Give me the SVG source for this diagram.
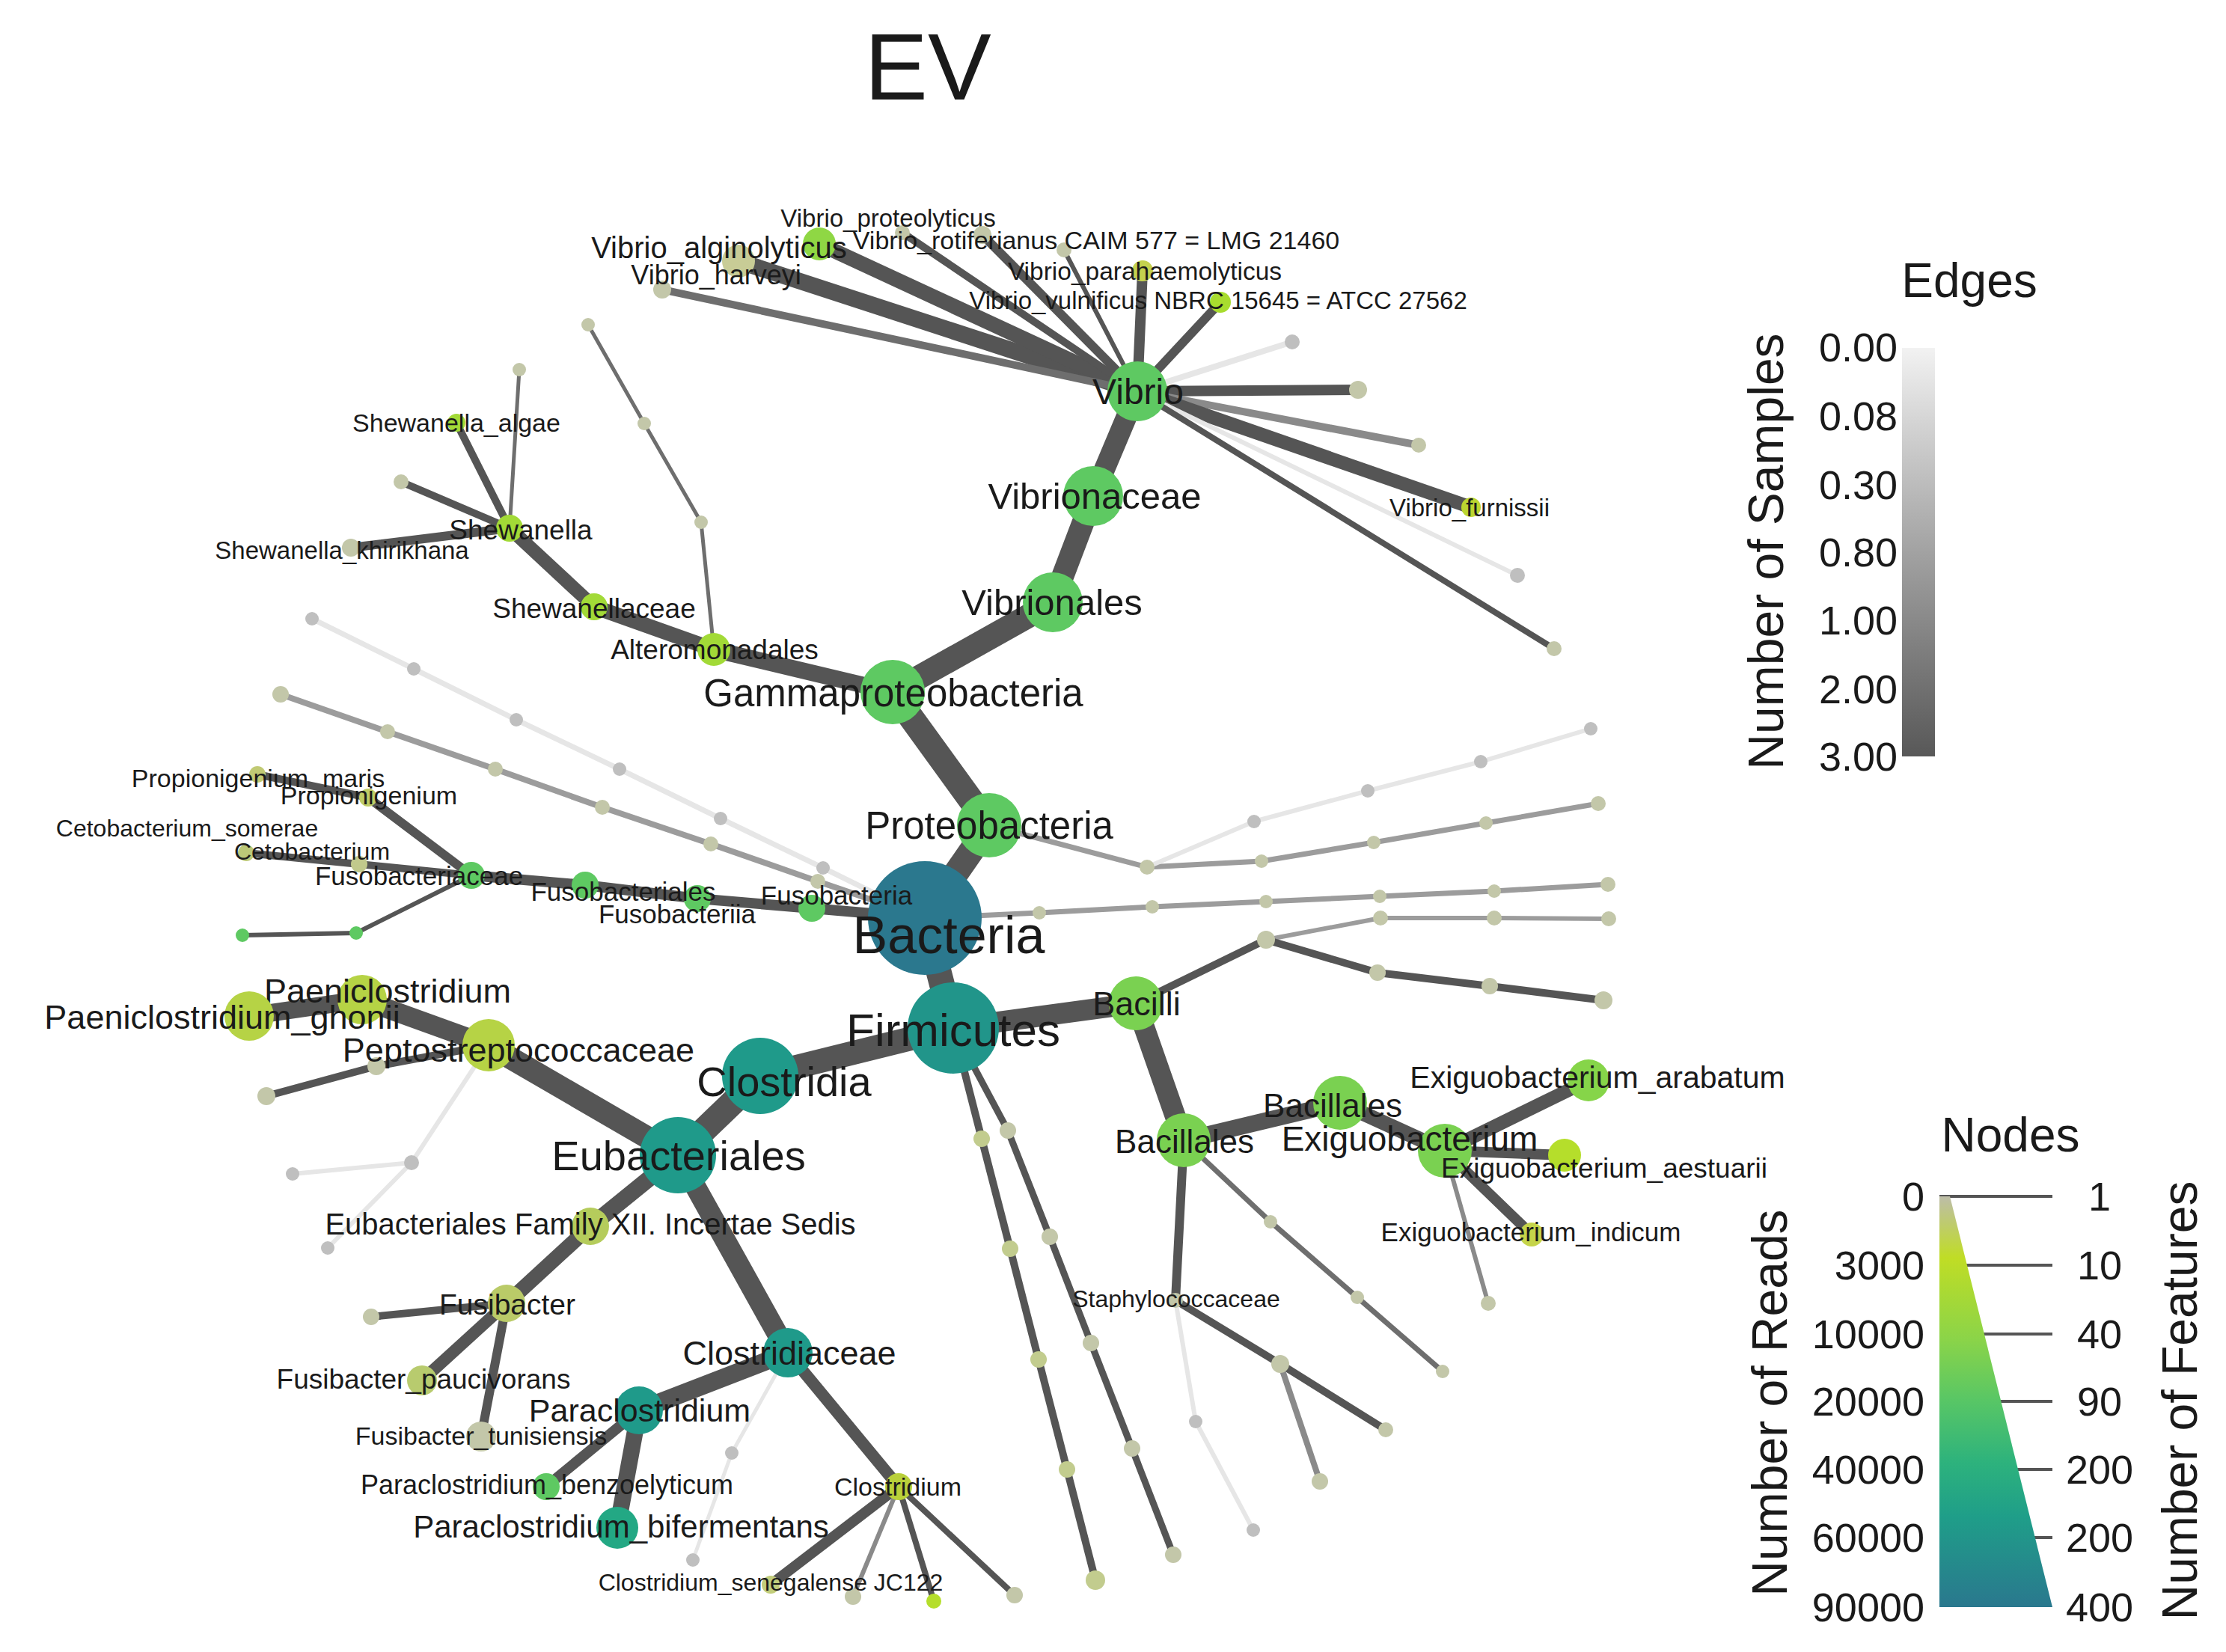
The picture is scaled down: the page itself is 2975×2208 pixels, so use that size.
<svg xmlns="http://www.w3.org/2000/svg" width="2975" height="2208" viewBox="0 0 2975 2208">
<style>
text{font-family:"Liberation Sans",Arial,Helvetica,sans-serif;fill:#1a1a1a}
.lb{text-anchor:middle;dominant-baseline:central}
.ls{text-anchor:start;dominant-baseline:central}
.le{text-anchor:end;dominant-baseline:central}
#edges line{stroke-linecap:round;fill:none}
.e3{stroke:#555555}
.e2{stroke:#6e6e6e}
.e1{stroke:#8a8a8a}
.e08{stroke:#9c9c9c}
.e0{stroke:#e6e6e6}
.cB{fill:#2b788e}
.cT{fill:#1f9a8a}
.cT2{fill:#23a884}
.cG{fill:#5ec962}
.cL{fill:#7ad151}
.cA{fill:#86d549}
.cY{fill:#a2da37}
.cLi{fill:#b5de2b}
.cK{fill:#b6d345}
.cO{fill:#bacb68}
.cOk{fill:#c2cc8e}
.cGK{fill:#c3c7a9}
.cLG{fill:#bfbfbf}
.tick{stroke:#555555;stroke-width:4}
</style>
<defs>
<linearGradient id="edgeGrad" x1="0" y1="0" x2="0" y2="1">
<stop offset="0" stop-color="#f2f2f2"/>
<stop offset="0.17" stop-color="#d6d6d6"/>
<stop offset="0.5" stop-color="#a2a2a2"/>
<stop offset="0.83" stop-color="#717171"/>
<stop offset="1" stop-color="#585858"/>
</linearGradient>
<linearGradient id="nodeGrad" x1="0" y1="0" x2="0" y2="1">
<stop offset="0" stop-color="#bdbda8"/>
<stop offset="0.15" stop-color="#c0dd25"/>
<stop offset="0.35" stop-color="#8ad449"/>
<stop offset="0.5" stop-color="#57c666"/>
<stop offset="0.65" stop-color="#2db27d"/>
<stop offset="0.78" stop-color="#1f9e89"/>
<stop offset="1" stop-color="#2a788e"/>
</linearGradient>
</defs>
<rect width="2975" height="2208" fill="#ffffff"/>
<text x="1240" y="133" font-size="127" text-anchor="middle">EV</text>

<g id="edges">
<line class="e3" stroke-width="34" x1="1236" y1="1227" x2="1322" y2="1103"/>
<line class="e3" stroke-width="34" x1="1322" y1="1103" x2="1193" y2="925"/>
<line class="e3" stroke-width="32" x1="1193" y1="925" x2="1407" y2="805"/>
<line class="e3" stroke-width="30" x1="1407" y1="805" x2="1461" y2="663"/>
<line class="e3" stroke-width="28" x1="1461" y1="663" x2="1520" y2="523"/>
<line class="e3" stroke-width="22" x1="1193" y1="925" x2="954" y2="868"/>
<line class="e3" stroke-width="20" x1="954" y1="868" x2="794" y2="811"/>
<line class="e3" stroke-width="18" x1="794" y1="811" x2="681" y2="706"/>
<line class="e3" stroke-width="10" x1="681" y1="706" x2="610" y2="565"/>
<line class="e2" stroke-width="5" x1="681" y1="706" x2="694" y2="494"/>
<line class="e3" stroke-width="10" x1="681" y1="706" x2="536" y2="644"/>
<line class="e3" stroke-width="12" x1="681" y1="706" x2="469" y2="732"/>
<line class="e2" stroke-width="5" x1="954" y1="868" x2="937" y2="698"/>
<line class="e2" stroke-width="5" x1="937" y1="698" x2="861" y2="566"/>
<line class="e2" stroke-width="5" x1="861" y1="566" x2="786" y2="434"/>
<line class="e3" stroke-width="22" x1="1520" y1="523" x2="987" y2="349"/>
<line class="e3" stroke-width="20" x1="1520" y1="523" x2="1095" y2="326"/>
<line class="e2" stroke-width="10" x1="1520" y1="523" x2="885" y2="387"/>
<line class="e3" stroke-width="10" x1="1520" y1="523" x2="1206" y2="311"/>
<line class="e3" stroke-width="12" x1="1520" y1="523" x2="1313" y2="314"/>
<line class="e3" stroke-width="6" x1="1520" y1="523" x2="1422" y2="334"/>
<line class="e3" stroke-width="14" x1="1520" y1="523" x2="1527" y2="362"/>
<line class="e3" stroke-width="12" x1="1520" y1="523" x2="1631" y2="404"/>
<line class="e0" stroke-width="8" x1="1520" y1="523" x2="1727" y2="457"/>
<line class="e3" stroke-width="14" x1="1520" y1="523" x2="1815" y2="521"/>
<line class="e1" stroke-width="10" x1="1520" y1="523" x2="1896" y2="595"/>
<line class="e3" stroke-width="18" x1="1520" y1="523" x2="1966" y2="678"/>
<line class="e0" stroke-width="6" x1="1520" y1="523" x2="2028" y2="769"/>
<line class="e3" stroke-width="8" x1="1520" y1="523" x2="2077" y2="867"/>
<polyline class="e08" stroke-width="8" fill="none" stroke-linejoin="round" points="1236,1227 1093,1178 950,1128 805,1079 662,1028 518,978 375,928"/>
<polyline class="e0" stroke-width="7" fill="none" stroke-linejoin="round" points="1236,1227 1100,1160 963,1094 828,1028 690,962 553,894 417,827"/>
<polyline class="e08" stroke-width="7" fill="none" stroke-linejoin="round" points="1236,1227 1389,1220 1540,1212 1692,1205 1844,1198 1997,1191 2149,1182"/>
<polyline class="e08" stroke-width="7" fill="none" stroke-linejoin="round" points="1322,1103 1533,1159 1686,1151 1836,1126 1986,1100 2136,1074"/>
<polyline class="e0" stroke-width="6" fill="none" stroke-linejoin="round" points="1533,1159 1676,1098 1828,1057 1979,1018 2126,974"/>
<line class="e3" stroke-width="14" x1="1236" y1="1227" x2="1085" y2="1214"/>
<line class="e3" stroke-width="14" x1="1085" y1="1214" x2="932" y2="1201"/>
<line class="e3" stroke-width="14" x1="932" y1="1201" x2="782" y2="1183"/>
<line class="e3" stroke-width="14" x1="782" y1="1183" x2="630" y2="1170"/>
<line class="e3" stroke-width="12" x1="630" y1="1170" x2="492" y2="1066"/>
<line class="e3" stroke-width="10" x1="492" y1="1066" x2="344" y2="1035"/>
<line class="e3" stroke-width="10" x1="630" y1="1170" x2="480" y2="1155"/>
<line class="e3" stroke-width="10" x1="480" y1="1155" x2="329" y2="1140"/>
<line class="e3" stroke-width="6" x1="630" y1="1170" x2="476" y2="1247"/>
<line class="e3" stroke-width="6" x1="476" y1="1247" x2="324" y2="1250"/>
<line class="e3" stroke-width="34" x1="1236" y1="1227" x2="1274" y2="1374"/>
<line class="e3" stroke-width="32" x1="1274" y1="1374" x2="1016" y2="1438"/>
<line class="e3" stroke-width="34" x1="1016" y1="1438" x2="906" y2="1544"/>
<line class="e3" stroke-width="30" x1="906" y1="1544" x2="653" y2="1397"/>
<line class="e3" stroke-width="26" x1="653" y1="1397" x2="484" y2="1336"/>
<line class="e3" stroke-width="24" x1="484" y1="1336" x2="333" y2="1358"/>
<line class="e3" stroke-width="10" x1="653" y1="1397" x2="503" y2="1425"/>
<line class="e3" stroke-width="10" x1="503" y1="1425" x2="356" y2="1465"/>
<line class="e0" stroke-width="6" x1="653" y1="1397" x2="550" y2="1554"/>
<line class="e0" stroke-width="6" x1="550" y1="1554" x2="391" y2="1569"/>
<line class="e0" stroke-width="6" x1="550" y1="1554" x2="438" y2="1668"/>
<line class="e3" stroke-width="22" x1="906" y1="1544" x2="789" y2="1639"/>
<line class="e3" stroke-width="20" x1="789" y1="1639" x2="677" y2="1742"/>
<line class="e3" stroke-width="10" x1="677" y1="1742" x2="496" y2="1760"/>
<line class="e3" stroke-width="16" x1="677" y1="1742" x2="564" y2="1845"/>
<line class="e3" stroke-width="12" x1="677" y1="1742" x2="643" y2="1920"/>
<line class="e3" stroke-width="28" x1="906" y1="1544" x2="1053" y2="1808"/>
<line class="e3" stroke-width="24" x1="1053" y1="1808" x2="854" y2="1885"/>
<line class="e3" stroke-width="14" x1="854" y1="1885" x2="730" y2="1987"/>
<line class="e3" stroke-width="22" x1="854" y1="1885" x2="825" y2="2042"/>
<line class="e0" stroke-width="5" x1="1053" y1="1808" x2="978" y2="1942"/>
<line class="e0" stroke-width="5" x1="978" y1="1942" x2="926" y2="2085"/>
<line class="e3" stroke-width="16" x1="1053" y1="1808" x2="1201" y2="1987"/>
<line class="e3" stroke-width="14" x1="1201" y1="1987" x2="1030" y2="2118"/>
<line class="e1" stroke-width="6" x1="1201" y1="1987" x2="1140" y2="2134"/>
<line class="e3" stroke-width="8" x1="1201" y1="1987" x2="1248" y2="2140"/>
<line class="e3" stroke-width="8" x1="1201" y1="1987" x2="1356" y2="2132"/>
<polyline class="e3" stroke-width="10" fill="none" stroke-linejoin="round" points="1274,1374 1312,1522 1350,1669 1388,1817 1426,1964 1464,2112"/>
<polyline class="e3" stroke-width="9" fill="none" stroke-linejoin="round" points="1274,1374 1347,1511 1403,1653 1458,1795 1513,1936 1568,2078"/>
<line class="e3" stroke-width="28" x1="1274" y1="1374" x2="1518" y2="1341"/>
<line class="e3" stroke-width="28" x1="1518" y1="1341" x2="1582" y2="1524"/>
<line class="e3" stroke-width="10" x1="1518" y1="1341" x2="1692" y2="1256"/>
<polyline class="e08" stroke-width="6" fill="none" stroke-linejoin="round" points="1692,1256 1845,1227 1997,1227 2150,1228"/>
<polyline class="e3" stroke-width="10" fill="none" stroke-linejoin="round" points="1692,1256 1841,1300 1991,1318 2143,1337"/>
<line class="e3" stroke-width="22" x1="1582" y1="1524" x2="1791" y2="1474"/>
<line class="e3" stroke-width="20" x1="1791" y1="1474" x2="1931" y2="1538"/>
<line class="e3" stroke-width="18" x1="1931" y1="1538" x2="2123" y2="1444"/>
<line class="e3" stroke-width="14" x1="1931" y1="1538" x2="2091" y2="1544"/>
<line class="e3" stroke-width="14" x1="1931" y1="1538" x2="2047" y2="1650"/>
<line class="e1" stroke-width="6" x1="1931" y1="1538" x2="1989" y2="1742"/>
<line class="e3" stroke-width="12" x1="1582" y1="1524" x2="1571" y2="1738"/>
<polyline class="e2" stroke-width="7" fill="none" stroke-linejoin="round" points="1582,1524 1698,1633 1814,1734 1928,1833"/>
<line class="e3" stroke-width="10" x1="1571" y1="1738" x2="1711" y2="1823"/>
<line class="e3" stroke-width="10" x1="1711" y1="1823" x2="1852" y2="1911"/>
<line class="e1" stroke-width="8" x1="1711" y1="1823" x2="1764" y2="1980"/>
<line class="e0" stroke-width="6" x1="1571" y1="1738" x2="1598" y2="1900"/>
<line class="e0" stroke-width="6" x1="1598" y1="1900" x2="1675" y2="2045"/>
</g>

<g id="node-leaves">
<g id="n-g1"><circle class="cGK" cx="694" cy="494" r="9"/></g>
<g id="n-g2"><circle class="cGK" cx="536" cy="644" r="10"/></g>
<g id="n-a1"><circle class="cGK" cx="937" cy="698" r="9"/></g>
<g id="n-a2"><circle class="cGK" cx="861" cy="566" r="9"/></g>
<g id="n-a3"><circle class="cGK" cx="786" cy="434" r="9"/></g>
<g id="n-v1"><circle class="cGK" cx="1206" cy="311" r="10"/></g>
<g id="n-v2"><circle class="cGK" cx="1422" cy="334" r="10"/></g>
<g id="n-v3"><circle class="cLG" cx="1727" cy="457" r="10"/></g>
<g id="n-v4"><circle class="cGK" cx="1815" cy="521" r="12"/></g>
<g id="n-v5"><circle class="cGK" cx="1896" cy="595" r="10"/></g>
<g id="n-v6"><circle class="cLG" cx="2028" cy="769" r="10"/></g>
<g id="n-v7"><circle class="cGK" cx="2077" cy="867" r="10"/></g>
<g id="n-bm1"><circle class="cGK" cx="1093" cy="1178" r="10"/></g>
<g id="n-bm2"><circle class="cGK" cx="950" cy="1128" r="10"/></g>
<g id="n-bm3"><circle class="cGK" cx="805" cy="1079" r="10"/></g>
<g id="n-bm4"><circle class="cGK" cx="662" cy="1028" r="10"/></g>
<g id="n-bm5"><circle class="cGK" cx="518" cy="978" r="10"/></g>
<g id="n-bm6"><circle class="cGK" cx="375" cy="928" r="11"/></g>
<g id="n-bl1"><circle class="cLG" cx="1100" cy="1160" r="9"/></g>
<g id="n-bl2"><circle class="cLG" cx="963" cy="1094" r="9"/></g>
<g id="n-bl3"><circle class="cLG" cx="828" cy="1028" r="9"/></g>
<g id="n-bl4"><circle class="cLG" cx="690" cy="962" r="9"/></g>
<g id="n-bl5"><circle class="cLG" cx="553" cy="894" r="9"/></g>
<g id="n-bl6"><circle class="cLG" cx="417" cy="827" r="9"/></g>
<g id="n-br1"><circle class="cGK" cx="1389" cy="1220" r="9"/></g>
<g id="n-br2"><circle class="cGK" cx="1540" cy="1212" r="9"/></g>
<g id="n-br3"><circle class="cGK" cx="1692" cy="1205" r="9"/></g>
<g id="n-br4"><circle class="cGK" cx="1844" cy="1198" r="9"/></g>
<g id="n-br5"><circle class="cGK" cx="1997" cy="1191" r="9"/></g>
<g id="n-br6"><circle class="cGK" cx="2149" cy="1182" r="10"/></g>
<g id="n-pr1"><circle class="cGK" cx="1533" cy="1159" r="10"/></g>
<g id="n-pr2"><circle class="cGK" cx="1686" cy="1151" r="9"/></g>
<g id="n-pr3"><circle class="cGK" cx="1836" cy="1126" r="9"/></g>
<g id="n-pr4"><circle class="cGK" cx="1986" cy="1100" r="9"/></g>
<g id="n-pr5"><circle class="cGK" cx="2136" cy="1074" r="10"/></g>
<g id="n-pl1"><circle class="cLG" cx="1676" cy="1098" r="9"/></g>
<g id="n-pl2"><circle class="cLG" cx="1828" cy="1057" r="9"/></g>
<g id="n-pl3"><circle class="cLG" cx="1979" cy="1018" r="9"/></g>
<g id="n-pl4"><circle class="cLG" cx="2126" cy="974" r="9"/></g>
<g id="n-f1"><circle class="cG" cx="476" cy="1247" r="9"/></g>
<g id="n-f2"><circle class="cG" cx="324" cy="1250" r="9"/></g>
<g id="n-pe1"><circle class="cGK" cx="503" cy="1425" r="12"/></g>
<g id="n-pe2"><circle class="cGK" cx="356" cy="1465" r="12"/></g>
<g id="n-pg1"><circle class="cLG" cx="550" cy="1554" r="10"/></g>
<g id="n-pg2"><circle class="cLG" cx="391" cy="1569" r="9"/></g>
<g id="n-pg3"><circle class="cLG" cx="438" cy="1668" r="9"/></g>
<g id="n-fu1"><circle class="cGK" cx="496" cy="1760" r="11"/></g>
<g id="n-cl1"><circle class="cLG" cx="978" cy="1942" r="9"/></g>
<g id="n-cl2"><circle class="cLG" cx="926" cy="2085" r="9"/></g>
<g id="n-c1"><circle class="cGK" cx="1140" cy="2134" r="11"/></g>
<g id="n-c2"><circle class="cLi" cx="1248" cy="2140" r="10"/></g>
<g id="n-c3"><circle class="cGK" cx="1356" cy="2132" r="11"/></g>
<g id="n-fa1"><circle class="cOk" cx="1312" cy="1522" r="11"/></g>
<g id="n-fa2"><circle class="cOk" cx="1350" cy="1669" r="11"/></g>
<g id="n-fa3"><circle class="cOk" cx="1388" cy="1817" r="11"/></g>
<g id="n-fa4"><circle class="cOk" cx="1426" cy="1964" r="11"/></g>
<g id="n-fa5"><circle class="cOk" cx="1464" cy="2112" r="13"/></g>
<g id="n-fb1"><circle class="cGK" cx="1347" cy="1511" r="11"/></g>
<g id="n-fb2"><circle class="cGK" cx="1403" cy="1653" r="11"/></g>
<g id="n-fb3"><circle class="cGK" cx="1458" cy="1795" r="11"/></g>
<g id="n-fb4"><circle class="cGK" cx="1513" cy="1936" r="11"/></g>
<g id="n-fb5"><circle class="cGK" cx="1568" cy="2078" r="11"/></g>
<g id="n-bc1"><circle class="cGK" cx="1692" cy="1256" r="12"/></g>
<g id="n-bcm1"><circle class="cGK" cx="1845" cy="1227" r="10"/></g>
<g id="n-bcm2"><circle class="cGK" cx="1997" cy="1227" r="10"/></g>
<g id="n-bcm3"><circle class="cGK" cx="2150" cy="1228" r="10"/></g>
<g id="n-bcd1"><circle class="cGK" cx="1841" cy="1300" r="11"/></g>
<g id="n-bcd2"><circle class="cGK" cx="1991" cy="1318" r="11"/></g>
<g id="n-bcd3"><circle class="cGK" cx="2143" cy="1337" r="12"/></g>
<g id="n-bs1"><circle class="cGK" cx="1698" cy="1633" r="9"/></g>
<g id="n-bs2"><circle class="cGK" cx="1814" cy="1734" r="9"/></g>
<g id="n-bs3"><circle class="cGK" cx="1928" cy="1833" r="9"/></g>
<g id="n-st1"><circle class="cGK" cx="1711" cy="1823" r="12"/></g>
<g id="n-st2"><circle class="cGK" cx="1852" cy="1911" r="10"/></g>
<g id="n-st3"><circle class="cGK" cx="1764" cy="1980" r="11"/></g>
<g id="n-stl1"><circle class="cLG" cx="1598" cy="1900" r="9"/></g>
<g id="n-stl2"><circle class="cLG" cx="1675" cy="2045" r="9"/></g>
<g id="n-ex1"><circle class="cGK" cx="1989" cy="1742" r="10"/></g>
</g>

<g id="node-bacteria"><circle class="cB" cx="1236" cy="1227" r="76"/><text class="lb" x="1268" y="1250" font-size="70">Bacteria</text></g>
<g id="node-firmicutes"><circle fill="#21958a" cx="1274" cy="1374" r="61"/><text class="lb" x="1274" y="1376" font-size="62">Firmicutes</text></g>
<g id="node-clostridia"><circle class="cT" cx="1016" cy="1438" r="51"/><text class="lb" x="1048" y="1445" font-size="56">Clostridia</text></g>
<g id="node-eubacteriales"><circle class="cT" cx="906" cy="1544" r="51"/><text class="lb" x="907" y="1544" font-size="56">Eubacteriales</text></g>
<g id="node-proteobacteria"><circle class="cG" cx="1322" cy="1103" r="43"/><text class="lb" x="1322" y="1103" font-size="51">Proteobacteria</text></g>
<g id="node-gammaproteobacteria"><circle class="cG" cx="1193" cy="925" r="43"/><text class="lb" x="1194" y="926" font-size="51">Gammaproteobacteria</text></g>
<g id="node-vibrionales"><circle class="cG" cx="1407" cy="805" r="40"/><text class="lb" x="1406" y="805" font-size="49">Vibrionales</text></g>
<g id="node-vibrionaceae"><circle class="cG" cx="1461" cy="663" r="40"/><text class="lb" x="1463" y="663" font-size="49">Vibrionaceae</text></g>
<g id="node-vibrio"><circle class="cG" cx="1520" cy="523" r="40"/><text class="lb" x="1521" y="523" font-size="48">Vibrio</text></g>

<g id="node-fusobacteria"><circle class="cG" cx="1085" cy="1214" r="18"/><text class="lb" x="1118" y="1196" font-size="35">Fusobacteria</text></g>
<g id="node-fusobacteriia"><circle class="cG" cx="932" cy="1201" r="18"/><text class="lb" x="905" y="1221" font-size="35">Fusobacteriia</text></g>
<g id="node-fusobacteriales"><circle class="cG" cx="782" cy="1183" r="18"/><text class="lb" x="833" y="1191" font-size="35">Fusobacteriales</text></g>
<g id="node-cetobacterium-somerae"><circle fill="#bcc878" cx="329" cy="1140" r="11"/><text class="lb" x="250" y="1107" font-size="32">Cetobacterium_somerae</text></g>
<g id="node-cetobacterium"><circle fill="#c1c98c" cx="480" cy="1155" r="11"/><text class="lb" x="417" y="1138" font-size="32">Cetobacterium</text></g>
<g id="node-fusobacteriaceae"><circle class="cG" cx="630" cy="1170" r="18"/><text class="lb" x="560" y="1170" font-size="35">Fusobacteriaceae</text></g>
<g id="node-propionigenium"><circle fill="#bfcc66" cx="492" cy="1066" r="12"/><text class="lb" x="493" y="1063" font-size="34">Propionigenium</text></g>
<g id="node-propionigenium-maris"><circle fill="#c1ca74" cx="344" cy="1035" r="11"/><text class="lb" x="345" y="1040" font-size="34">Propionigenium_maris</text></g>

<g id="node-paeniclostridium"><circle class="cK" cx="484" cy="1336" r="33"/><text class="lb" x="518" y="1324" font-size="45">Paeniclostridium</text></g>
<g id="node-paeniclostridium-ghonii"><circle class="cK" cx="333" cy="1358" r="33"/><text class="lb" x="297" y="1359" font-size="45">Paeniclostridium_ghonii</text></g>
<g id="node-peptostreptococcaceae"><circle class="cK" cx="653" cy="1397" r="35"/><text class="lb" x="693" y="1403" font-size="45">Peptostreptococcaceae</text></g>

<g id="node-eubacteriales-family-xii"><circle fill="#b5cc5c" cx="789" cy="1639" r="25"/><text class="lb" x="789" y="1636" font-size="40">Eubacteriales Family XII. Incertae Sedis</text></g>
<g id="node-fusibacter"><circle class="cO" cx="677" cy="1742" r="25"/><text class="lb" x="678" y="1743" font-size="39">Fusibacter</text></g>
<g id="node-fusibacter-paucivorans"><circle fill="#b8cb6e" cx="564" cy="1845" r="20"/><text class="lb" x="566" y="1843" font-size="37">Fusibacter_paucivorans</text></g>
<g id="node-fusibacter-tunisiensis"><circle class="cGK" cx="643" cy="1920" r="20"/><text class="lb" x="643" y="1919" font-size="34">Fusibacter_tunisiensis</text></g>

<g id="node-clostridiaceae"><circle class="cT" cx="1053" cy="1808" r="33"/><text class="lb" x="1055" y="1808" font-size="45">Clostridiaceae</text></g>
<g id="node-paraclostridium"><circle class="cT" cx="854" cy="1885" r="32"/><text class="lb" x="855" y="1885" font-size="43">Paraclostridium</text></g>
<g id="node-paraclostridium-benzoelyticum"><circle class="cG" cx="730" cy="1987" r="18"/><text class="lb" x="731" y="1984" font-size="36">Paraclostridium_benzoelyticum</text></g>
<g id="node-paraclostridium-bifermentans"><circle class="cT2" cx="825" cy="2042" r="28"/><text class="lb" x="830" y="2040" font-size="42">Paraclostridium_bifermentans</text></g>
<g id="node-clostridium"><circle fill="#b9d03a" cx="1201" cy="1987" r="18"/><text class="lb" x="1200" y="1987" font-size="34">Clostridium</text></g>
<g id="node-clostridium-senegalense"><circle fill="#c2cd7b" cx="1030" cy="2118" r="12"/><text class="lb" x="1030" y="2115" font-size="32">Clostridium_senegalense JC122</text></g>

<g id="node-alteromonadales"><circle class="cY" cx="954" cy="868" r="22"/><text class="lb" x="955" y="868" font-size="37">Alteromonadales</text></g>
<g id="node-shewanellaceae"><circle class="cY" cx="794" cy="811" r="18"/><text class="lb" x="794" y="813" font-size="37">Shewanellaceae</text></g>
<g id="node-shewanella"><circle class="cY" cx="681" cy="706" r="18"/><text class="lb" x="696" y="708" font-size="37">Shewanella</text></g>
<g id="node-shewanella-algae"><circle class="cY" cx="610" cy="565" r="12"/><text class="lb" x="610" y="565" font-size="34">Shewanella_algae</text></g>
<g id="node-shewanella-khirikhana"><circle class="cGK" cx="469" cy="732" r="12"/><text class="lb" x="457" y="735" font-size="33">Shewanella_khirikhana</text></g>

<g id="node-vibrio-proteolyticus"><circle fill="#8fd744" cx="1095" cy="326" r="22"/><text class="lb" x="1187" y="291" font-size="33">Vibrio_proteolyticus</text></g>
<g id="node-vibrio-alginolyticus"><circle fill="#c8cc96" cx="987" cy="349" r="22"/><text class="lb" x="961" y="331" font-size="40">Vibrio_alginolyticus</text></g>
<g id="node-vibrio-harveyi"><circle class="cGK" cx="885" cy="387" r="12"/><text class="lb" x="957" y="367" font-size="36">Vibrio_harveyi</text></g>
<g id="node-vibrio-rotiferianus"><circle class="cGK" cx="1313" cy="314" r="12"/><text class="lb" x="1465" y="321" font-size="34">Vibrio_rotiferianus CAIM 577 = LMG 21460</text></g>
<g id="node-vibrio-parahaemolyticus"><circle fill="#c4d14e" cx="1527" cy="362" r="14"/><text class="lb" x="1530" y="362" font-size="33.5">Vibrio_parahaemolyticus</text></g>
<g id="node-vibrio-vulnificus"><circle fill="#a8dc2e" cx="1631" cy="404" r="14"/><text class="lb" x="1628" y="401" font-size="33">Vibrio_vulnificus NBRC 15645 = ATCC 27562</text></g>
<g id="node-vibrio-furnissii"><circle fill="#bcd630" cx="1966" cy="678" r="13"/><text class="lb" x="1964" y="678" font-size="33">Vibrio_furnissii</text></g>

<g id="node-bacilli"><circle class="cL" cx="1518" cy="1341" r="36"/><text class="lb" x="1519" y="1341" font-size="45">Bacilli</text></g>
<g id="node-bacillales"><circle class="cL" cx="1582" cy="1524" r="36"/><text class="lb" x="1583" y="1525" font-size="44">Bacillales</text></g>
<g id="node-staphylococcaceae"><circle class="cGK" cx="1571" cy="1738" r="10"/><text class="lb" x="1572" y="1736" font-size="32">Staphylococcaceae</text></g>
<g id="node-bacillales-2"><circle class="cL" cx="1791" cy="1474" r="36"/><text class="lb" x="1781" y="1477" font-size="44">Bacillales</text></g>
<g id="node-exiguobacterium"><circle class="cL" cx="1931" cy="1538" r="36"/><text class="lb" x="1884" y="1522" font-size="46">Exiguobacterium</text></g>
<g id="node-exiguobacterium-arabatum"><circle class="cA" cx="2123" cy="1444" r="28"/><text class="lb" x="2135" y="1440" font-size="41">Exiguobacterium_arabatum</text></g>
<g id="node-exiguobacterium-aestuarii"><circle class="cLi" cx="2091" cy="1544" r="22"/><text class="lb" x="2144" y="1561" font-size="37">Exiguobacterium_aestuarii</text></g>
<g id="node-exiguobacterium-indicum"><circle fill="#c5d44a" cx="2047" cy="1650" r="16"/><text class="lb" x="2046" y="1646" font-size="35">Exiguobacterium_indicum</text></g>

<g id="legend-edges">
<text x="2632" y="397" font-size="64" text-anchor="middle">Edges</text>
<rect x="2542" y="465" width="44" height="546" fill="url(#edgeGrad)"/>
<text class="le" x="2536" y="464" font-size="54">0.00</text>
<text class="le" x="2536" y="556" font-size="54">0.08</text>
<text class="le" x="2536" y="648" font-size="54">0.30</text>
<text class="le" x="2536" y="738" font-size="54">0.80</text>
<text class="le" x="2536" y="829" font-size="54">1.00</text>
<text class="le" x="2536" y="921" font-size="54">2.00</text>
<text class="le" x="2536" y="1011" font-size="54">3.00</text>
<text class="lb" transform="translate(2360,737) rotate(-90)" x="0" y="0" font-size="66">Number of Samples</text>
</g>

<g id="legend-nodes">
<text x="2687" y="1539" font-size="64" text-anchor="middle">Nodes</text>
<line class="tick" x1="2592" y1="1599" x2="2743" y2="1599"/>
<line class="tick" x1="2592" y1="1691" x2="2743" y2="1691"/>
<line class="tick" x1="2592" y1="1783" x2="2743" y2="1783"/>
<line class="tick" x1="2592" y1="1873" x2="2743" y2="1873"/>
<line class="tick" x1="2592" y1="1964" x2="2743" y2="1964"/>
<line class="tick" x1="2592" y1="2055" x2="2743" y2="2055"/>
<polygon points="2592,1599 2606,1599 2743,2148 2592,2148" fill="url(#nodeGrad)"/>
<text class="le" x="2572" y="1599" font-size="54">0</text>
<text class="le" x="2572" y="1691" font-size="54">3000</text>
<text class="le" x="2572" y="1783" font-size="54">10000</text>
<text class="le" x="2572" y="1873" font-size="54">20000</text>
<text class="le" x="2572" y="1964" font-size="54">40000</text>
<text class="le" x="2572" y="2055" font-size="54">60000</text>
<text class="le" x="2572" y="2148" font-size="54">90000</text>
<text class="lb" x="2806" y="1599" font-size="54">1</text>
<text class="lb" x="2806" y="1691" font-size="54">10</text>
<text class="lb" x="2806" y="1783" font-size="54">40</text>
<text class="lb" x="2806" y="1873" font-size="54">90</text>
<text class="lb" x="2806" y="1964" font-size="54">200</text>
<text class="lb" x="2806" y="2055" font-size="54">200</text>
<text class="lb" x="2806" y="2148" font-size="54">400</text>
<text class="lb" transform="translate(2365,1875) rotate(-90)" x="0" y="0" font-size="66">Number of Reads</text>
<text class="lb" transform="translate(2913,1872) rotate(-90)" x="0" y="0" font-size="66">Number of Features</text>
</g>
</svg>
